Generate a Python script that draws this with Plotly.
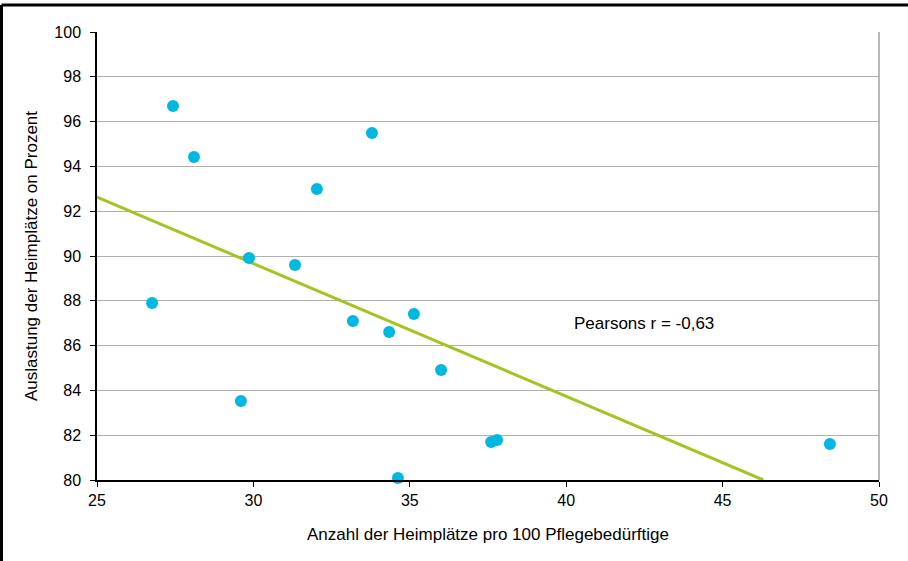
"""Streudiagramm: Heimplätze vs. Auslastung"""
import plotly.graph_objects as go

# Anzahl der Heimplätze pro 100 Pflegebedürftige
heimplaetze = [27.43, 28.10, 26.76, 29.86, 29.60, 31.33, 32.03, 33.18,
               33.79, 34.34, 35.13, 34.62, 36.00, 37.60, 37.79, 48.43]
# Auslastung in Prozent
auslastung = [96.70, 94.42, 87.90, 89.91, 83.53, 89.60, 92.99, 87.10,
              95.49, 86.61, 87.41, 80.09, 84.91, 81.70, 81.79, 81.61]

# Trendlinie (Endpunkte)
trend_x = [25.0, 46.3]
trend_y = [92.63, 80.0]

x_ticks = [25, 30, 35, 40, 45, 50]
y_ticks = [80, 82, 84, 86, 88, 90, 92, 94, 96, 98, 100]

FONT = "Liberation Sans, Arial, sans-serif"

fig = go.Figure()

fig.add_trace(go.Scatter(
    x=trend_x,
    y=trend_y,
    mode='lines',
    line=dict(color='#a2c523', width=3),
    showlegend=False
))

fig.add_trace(go.Scatter(
    x=heimplaetze,
    y=auslastung,
    mode='markers',
    marker=dict(color='#00b8e0', size=12),
    showlegend=False,
    cliponaxis=False
))

fig.add_annotation(
    x=42.5, y=87.0, xref='x', yref='y',
    text="Pearsons r = -0,63",
    showarrow=False,
    font=dict(family=FONT, size=17, color='#000000')
)

# rechter Rand der Zeichenfläche (grau)
fig.add_shape(type='line', xref='paper', yref='paper',
              x0=1, x1=1, y0=0, y1=1,
              line=dict(color='#a0a0a0', width=1.5))

# Rahmen oben und links
fig.add_shape(type='line', xref='paper', yref='paper',
              x0=-0.1221, x1=1.1, y0=1.0603, y1=1.0603,
              line=dict(color='#000000', width=3))
fig.add_shape(type='line', xref='paper', yref='paper',
              x0=-0.1221, x1=-0.1221, y0=-0.3, y1=1.0603,
              line=dict(color='#000000', width=3))

fig.update_layout(
    width=908,
    height=561,
    margin=dict(l=97, r=29, t=32, b=81),
    paper_bgcolor='white',
    plot_bgcolor='white',
    font=dict(family=FONT, size=16, color='#000000'),
    xaxis=dict(
        range=[25, 50],
        tickvals=x_ticks,
        ticks='outside',
        ticklen=5,
        tickcolor='#000000',
        showline=True,
        linecolor='#000000',
        linewidth=1.5,
        showgrid=False,
        zeroline=False,
        tickfont=dict(size=16),
        title=dict(text="Anzahl der Heimplätze pro 100 Pflegebedürftige",
                   font=dict(size=17), standoff=20)
    ),
    yaxis=dict(
        range=[80, 100],
        tickvals=y_ticks,
        ticks='outside',
        ticklen=5,
        tickcolor='#000000',
        ticklabelstandoff=6,
        showline=True,
        linecolor='#000000',
        linewidth=1.5,
        showgrid=True,
        gridcolor='#b0b0b0',
        gridwidth=1,
        zeroline=False,
        tickfont=dict(size=16),
        title=dict(text="Auslastung der Heimplätze on Prozent",
                   font=dict(size=17), standoff=12)
    )
)

fig.write_html("out.html", config={'displayModeBar': False},
               post_script="document.body.style.margin='0';")
